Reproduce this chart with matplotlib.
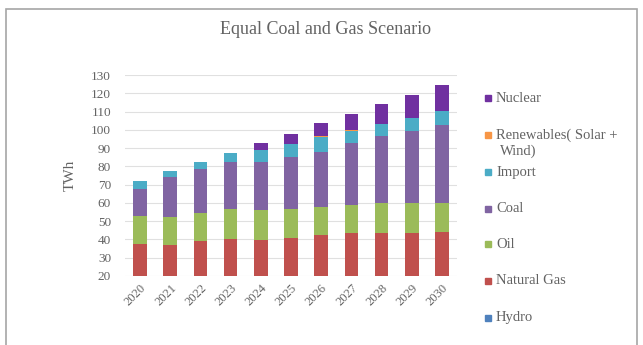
import matplotlib

matplotlib.use("Agg")
import matplotlib.pyplot as plt
from matplotlib.patches import Rectangle
import numpy as np

plt.rcParams["font.family"] = ["Liberation Serif", "DejaVu Serif"]

GREY = "#636363"

years = ["2020", "2021", "2022", "2023", "2024", "2025",
         "2026", "2027", "2028", "2029", "2030"]

# TWh per source, stacked bottom-up
hydro = [2.0, 2.0, 2.0, 2.0, 2.0, 2.0, 2.0, 2.0, 2.0, 2.0, 2.0]
natural_gas = [35.3, 35.0, 37.2, 38.3, 37.7, 38.6, 40.4, 41.4, 41.7, 41.7, 42.2]
oil = [15.5, 15.5, 15.1, 16.4, 16.4, 16.1, 15.5, 15.5, 16.1, 16.1, 15.9]
coal = [14.6, 21.5, 24.1, 25.9, 26.5, 28.6, 30.1, 33.7, 36.8, 39.7, 42.5]
import_ = [4.5, 3.5, 3.8, 4.6, 6.1, 7.0, 8.3, 7.0, 6.7, 7.1, 7.6]
renewables = [0.1, 0.1, 0.1, 0.1, 0.1, 0.1, 0.1, 0.1, 0.1, 0.1, 0.1]
nuclear = [0.0, 0.0, 0.0, 0.0, 4.2, 5.5, 7.4, 8.8, 10.5, 12.2, 14.0]

series = [
    ("Hydro", hydro, "#4F81BD"),
    ("Natural Gas", natural_gas, "#C0504D"),
    ("Oil", oil, "#9BBB59"),
    ("Coal", coal, "#8064A2"),
    ("Import", import_, "#4BACC6"),
    ("Renewables( Solar +\nWind)", renewables, "#F79646"),
    ("Nuclear", nuclear, "#7030A0"),
]

fig = plt.figure(figsize=(6.43, 3.45), dpi=100)

# chart frame
fig.patches.append(Rectangle((6 / 643, -0.1), 631 / 643, 1.1 - 9 / 345,
                             transform=fig.transFigure, fill=False,
                             edgecolor="#A6A6A6", linewidth=1.2))

ax = fig.add_axes([125 / 643, 69 / 345, 332 / 643, 201 / 345])
x = np.arange(len(years))
bottom = np.zeros(len(years))
for name, vals, color in series:
    ax.bar(x, vals, width=0.45, bottom=bottom, color=color, zorder=3)
    bottom += np.array(vals)

ax.set_ylim(20, 130)
ax.set_xlim(-0.5, len(years) - 0.5)
ax.set_yticks(range(20, 131, 10))
ax.set_xticks(x)
ax.set_xticklabels(years, rotation=45, ha="right", rotation_mode="anchor")
ax.tick_params(length=0, labelsize=9.5, colors=GREY)
ax.tick_params(axis="x", labelsize=9, pad=4)
ax.tick_params(axis="y", pad=10)
ax.grid(axis="y", color="#E0E0E0", linewidth=0.8, zorder=0)
for s in ax.spines.values():
    s.set_visible(False)
ax.set_ylabel("TWh", fontsize=11, color=GREY, labelpad=10)

fig.text(326 / 643, 1 - 30 / 345, "Equal Coal and Gas Scenario",
         ha="center", va="center", fontsize=13, color=GREY)

# legend, top entry first
legend_y = [98, 135, 172, 209, 244, 281, 318]
for (name, vals, color), ly in zip(reversed(series), legend_y):
    fig.patches.append(Rectangle((485 / 643, 1 - (ly + 3) / 345), 6 / 643, 6 / 345,
                                 transform=fig.transFigure, color=color))
    first, *rest = name.split("\n")
    fig.text(496 / 643, 1 - ly / 345, first, ha="left", va="center",
             fontsize=10.5, color=GREY)
    if rest:
        fig.text(500 / 643, 1 - (ly + 16) / 345, rest[0], ha="left",
                 va="center", fontsize=10.5, color=GREY)

fig.savefig("out.png", dpi=100)
